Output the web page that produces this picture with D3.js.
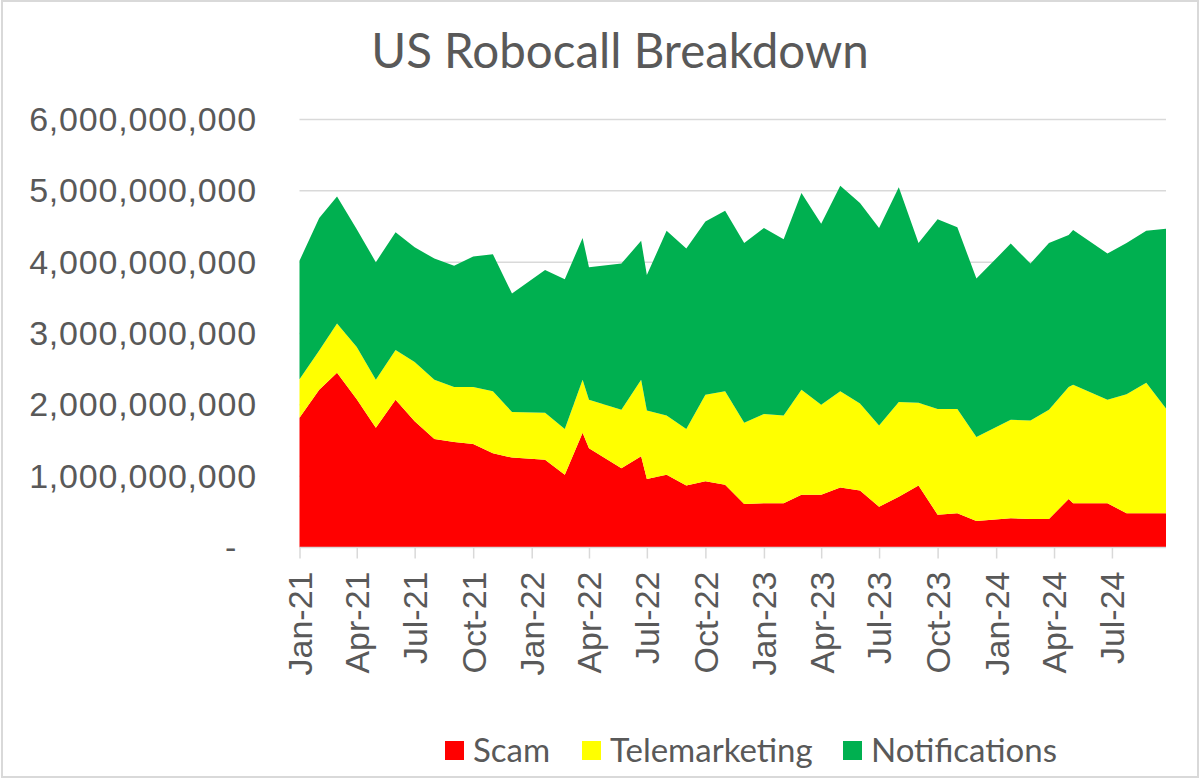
<!DOCTYPE html>
<html>
<head>
<meta charset="utf-8">
<script src="https://cdn.jsdelivr.net/npm/d3@7"></script>
<style>
  html, body { margin: 0; padding: 0; background: #fff; }
  svg { display: block; font-family: Lato, "Open Sans", sans-serif; }
</style>
</head>
<body>
<svg width="1200" height="782"></svg>
<script>
// monthly points (some rows were stored on odd days, so keep the real dates)
const dates = [
  "2021-01-01","2021-02-01","2021-03-01","2021-04-01","2021-05-01","2021-06-01",
  "2021-07-01","2021-08-01","2021-09-01","2021-10-01","2021-11-01","2021-12-01",
  "2022-01-22","2022-02-22","2022-03-22","2022-04-01","2022-05-22","2022-06-22",
  "2022-07-01","2022-08-01","2022-09-01","2022-10-01","2022-11-01","2022-12-01",
  "2023-01-01","2023-02-01","2023-03-01","2023-04-01","2023-05-01","2023-06-01",
  "2023-07-01","2023-08-01","2023-09-01","2023-10-01","2023-11-01","2023-12-01",
  "2024-01-24","2024-02-24","2024-03-24","2024-04-24","2024-05-01","2024-06-24",
  "2024-07-24","2024-08-24","2024-09-24"
];

// values in billions of calls
const scam = [
  1.82, 2.21, 2.45, 2.08, 1.68, 2.07, 1.77, 1.52, 1.48, 1.45, 1.32, 1.26,
  1.23, 1.02, 1.61, 1.39, 1.11, 1.28, 0.96, 1.02, 0.87, 0.93, 0.88, 0.61,
  0.62, 0.62, 0.74, 0.74, 0.84, 0.80, 0.57, 0.71, 0.87, 0.46, 0.48, 0.37,
  0.41, 0.40, 0.40, 0.68, 0.62, 0.62, 0.48, 0.48, 0.48
];
const telemarketing = [
  0.54, 0.55, 0.69, 0.73, 0.67, 0.70, 0.83, 0.83, 0.77, 0.80, 0.87, 0.64,
  0.66, 0.64, 0.74, 0.68, 0.82, 1.07, 0.96, 0.83, 0.79, 1.21, 1.31, 1.14,
  1.25, 1.23, 1.47, 1.26, 1.35, 1.22, 1.14, 1.33, 1.16, 1.48, 1.46, 1.18,
  1.38, 1.38, 1.53, 1.57, 1.66, 1.45, 1.67, 1.83, 1.47
];
const notifications = [
  1.66, 1.86, 1.78, 1.65, 1.65, 1.65, 1.61, 1.70, 1.70, 1.83, 1.92, 1.66,
  2.00, 2.10, 1.99, 1.86, 2.05, 1.95, 1.90, 2.59, 2.53, 2.43, 2.53, 2.52,
  2.61, 2.47, 2.76, 2.54, 2.88, 2.81, 2.77, 3.01, 2.24, 2.66, 2.55, 2.22,
  2.47, 2.20, 2.34, 2.13, 2.17, 2.05, 2.12, 2.13, 2.52
];

const seriesNames = ["Scam", "Telemarketing", "Notifications"];
const yTicks = [0, 1e9, 2e9, 3e9, 4e9, 5e9, 6e9];

const colors = { "Scam": "#ff0000", "Telemarketing": "#ffff00", "Notifications": "#00b050" };
const textColor = "#595959";
const gridColor = "#d9d9d9";

const parseDate = d3.timeParse("%Y-%m-%d");
const rows = dates.map((d, i) => ({
  date: parseDate(d),
  "Scam": scam[i] * 1e9,
  "Telemarketing": telemarketing[i] * 1e9,
  "Notifications": notifications[i] * 1e9
}));

const svg = d3.select("svg");

// chart border
svg.append("rect")
  .attr("x", 2).attr("y", 1)
  .attr("width", 1196).attr("height", 776)
  .attr("fill", "none")
  .attr("stroke", gridColor)
  .attr("stroke-width", 2);

const x = d3.scaleTime()
  .domain([new Date(2021, 0, 1), rows[rows.length - 1].date])
  .range([299.5, 1166]);

const y = d3.scaleLinear()
  .domain([0, 6e9])
  .range([547.5, 119.5]);

// gridlines
svg.append("g")
  .selectAll("line")
  .data(yTicks.slice(1))
  .join("line")
  .attr("x1", x.range()[0]).attr("x2", x.range()[1])
  .attr("y1", d => y(d)).attr("y2", d => y(d))
  .attr("stroke", gridColor)
  .attr("stroke-width", 1.5);

// stacked areas
const stack = d3.stack().keys(seriesNames);
const layers = stack(rows);

const area = d3.area()
  .x(d => x(d.data.date))
  .y0(d => y(d[0]))
  .y1(d => y(d[1]));

svg.append("g")
  .selectAll("path")
  .data(layers)
  .join("path")
  .attr("d", area)
  .attr("fill", d => colors[d.key]);

// y axis labels (accounting style, dash for zero)
const yAxis = svg.append("g")
  .attr("transform", "translate(257,0)")
  .call(d3.axisLeft(y)
    .tickValues(yTicks)
    .tickSize(0)
    .tickPadding(0)
    .tickFormat(d => d === 0 ? "-" : d3.format(",")(d)));
yAxis.select(".domain").remove();
yAxis.selectAll("text")
  .attr("fill", textColor)
  .style("font-size", "34px")
  .style("letter-spacing", "0.8px");
yAxis.selectAll(".tick")
  .filter(d => d === 0)
  .select("text")
  .attr("x", -20);

// x axis
const xTicks = d3.timeMonth.range(new Date(2021, 0, 1), x.domain()[1], 3);
const xAxis = svg.append("g")
  .attr("transform", `translate(0,${y(0)})`)
  .call(d3.axisBottom(x)
    .tickValues(xTicks)
    .tickSize(11)
    .tickFormat(d3.timeFormat("%b-%y")));
xAxis.select(".domain")
  .attr("d", `M${x.range()[0]},0H${x.range()[1]}`)
  .attr("stroke", gridColor)
  .attr("stroke-width", 1.5);
xAxis.selectAll(".tick line")
  .attr("stroke", gridColor)
  .attr("stroke-width", 1.5);
xAxis.selectAll(".tick text")
  .attr("fill", textColor)
  .style("font-size", "34px")
  .attr("transform", "rotate(-90)")
  .attr("text-anchor", "end")
  .attr("x", -24)
  .attr("y", 0)
  .attr("dy", "0.35em");

// title
svg.append("text")
  .attr("x", 620)
  .attr("y", 68)
  .attr("text-anchor", "middle")
  .attr("fill", textColor)
  .style("font-size", "47.5px")
  .text("US Robocall Breakdown");

// legend
const legendX = [445, 582, 843];
const legend = svg.append("g")
  .selectAll("g")
  .data(seriesNames)
  .join("g")
  .attr("transform", (d, i) => `translate(${legendX[i]},741)`);
legend.append("rect")
  .attr("width", 19).attr("height", 19)
  .attr("fill", d => colors[d]);
legend.append("text")
  .attr("x", 28)
  .attr("y", 21)
  .attr("fill", textColor)
  .style("font-size", "33px")
  .text(d => d);
</script>
</body>
</html>
